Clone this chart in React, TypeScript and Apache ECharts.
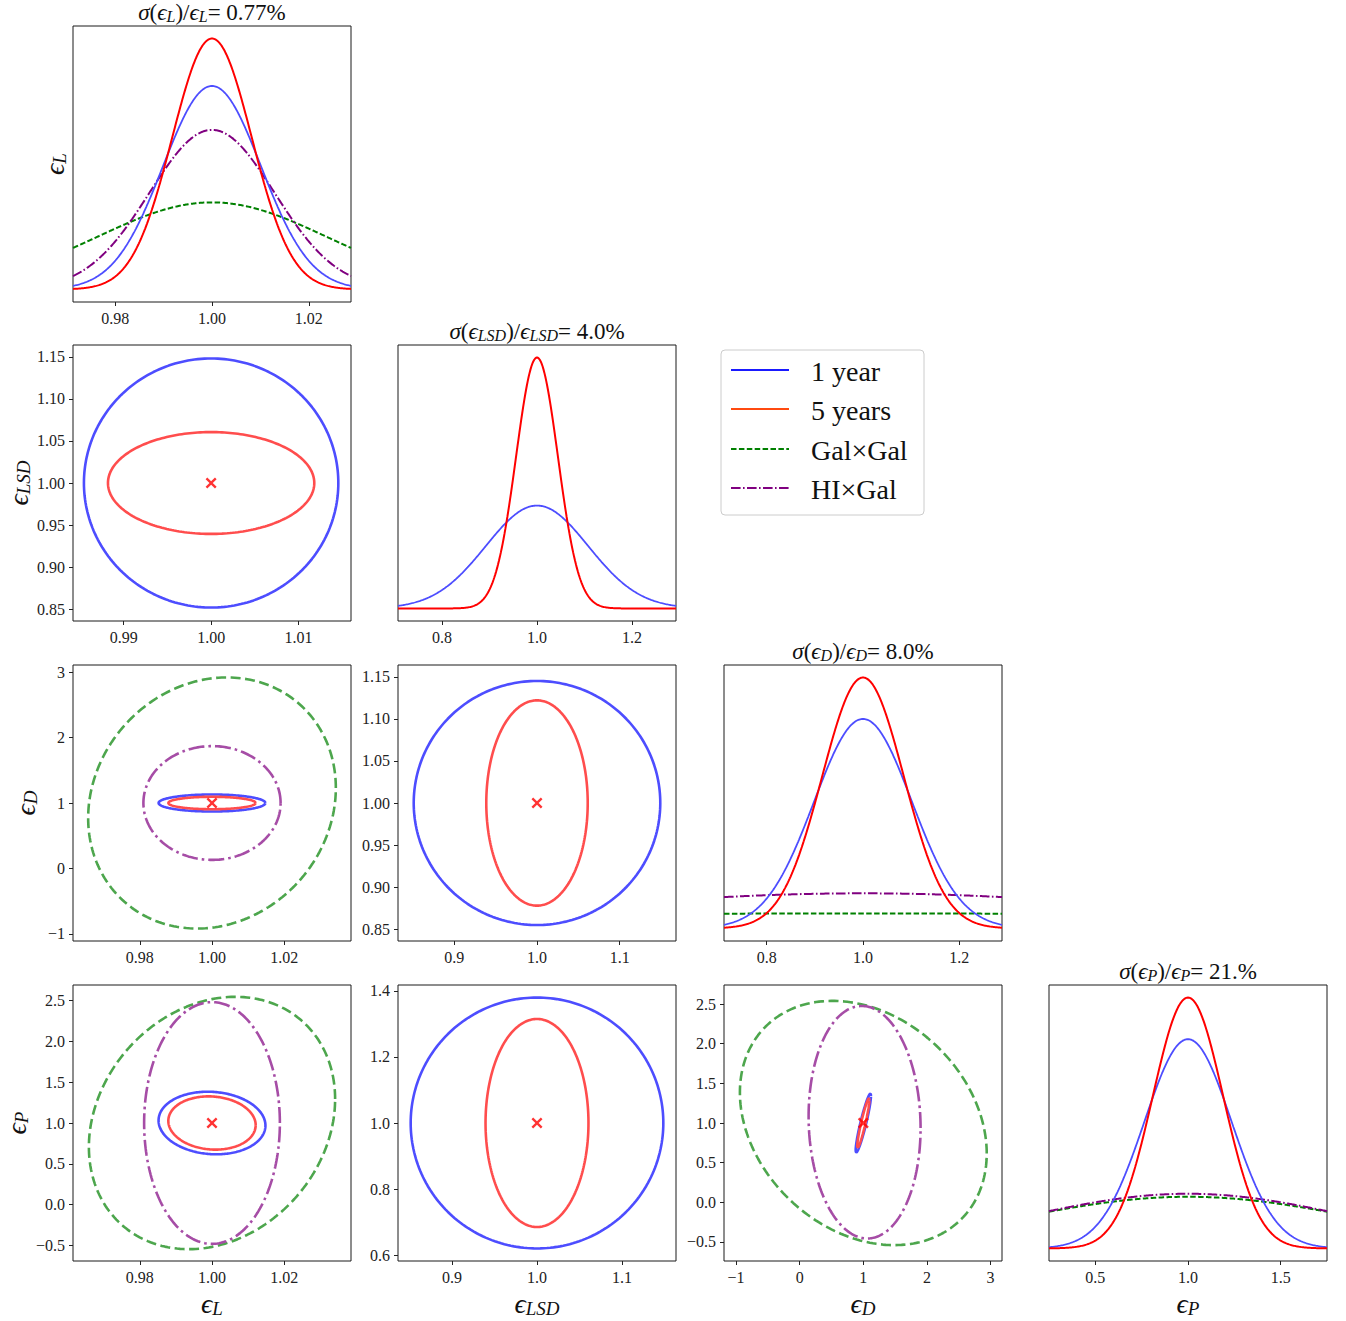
import React, { useEffect, useRef } from "react";
import * as echarts from "echarts";

const W = 1346;
const H = 1321;
const FONT = "'Liberation Serif', 'DejaVu Serif', serif";

// ---- panel layout ----
const colLeft = [73, 398, 724, 1049];
const rowTop = [26, 345, 665, 985];
const PW = 278;
const PH = 276;

// ---- names ----
const seriesNames = ["1 year", "5 years", "Gal×Gal", "HI×Gal"];
const paramSubs = ["L", "LSD", "D", "P"];
const diagTitleValues = ["0.77%", "4.0%", "8.0%", "21.%"];
const fiducial = [1.0, 1.0, 1.0, 1.0];

// ---- 1D marginals (order: 1 year, 5 years, Gal×Gal, HI×Gal) ----
const diagXRange = [[0.9713, 1.0287], [0.707, 1.293], [0.7113, 1.2887], [0.25, 1.75]];
const diagXTicks = [[0.98, 1.0, 1.02], [0.8, 1.0, 1.2], [0.8, 1.0, 1.2], [0.5, 1.0, 1.5]];
const diagXDecimals = [2, 1, 1, 1];
const diagSigma = [
  [0.0101, 0.0082, 0.0236, 0.0129],
  [0.108, 0.044, null, null],
  [0.1014, 0.0847, 1.41, 0.605],
  [0.235, 0.19, 0.908, 0.858],
];
const diagPeak = [
  [0.811, 1.0, 0.347, 0.636],
  [0.41, 1.0, null, null],
  [0.835, 1.0, 0.06, 0.14],
  [0.834, 1.0, 0.206, 0.218],
];

// ---- 2D contours ----
const offRows = [1, 2, 2, 3, 3, 3];
const offCols = [0, 0, 1, 0, 1, 2];
const offXRange = [[0.9842, 1.016], [0.9615, 1.0385], [0.832, 1.168], [0.9615, 1.0385], [0.8366, 1.1634], [-1.19, 3.18]];
const offYRange = [[0.836, 1.164], [-1.11, 3.11], [0.836, 1.164], [-0.69, 2.69], [0.582, 1.418], [-0.74, 2.74]];
const offXTicks = [
  [0.99, 1.0, 1.01],
  [0.98, 1.0, 1.02],
  [0.9, 1.0, 1.1],
  [0.98, 1.0, 1.02],
  [0.9, 1.0, 1.1],
  [-1, 0, 1, 2, 3],
];
const offYTicks = [
  [0.85, 0.9, 0.95, 1.0, 1.05, 1.1, 1.15],
  [-1, 0, 1, 2, 3],
  [0.85, 0.9, 0.95, 1.0, 1.05, 1.1, 1.15],
  [-0.5, 0.0, 0.5, 1.0, 1.5, 2.0, 2.5],
  [0.6, 0.8, 1.0, 1.2, 1.4],
  [-0.5, 0.0, 0.5, 1.0, 1.5, 2.0, 2.5],
];
const offXDec = [2, 2, 1, 2, 1, 0];
const offYDec = [2, 0, 2, 1, 1, 1];
// contour: [centreX, centreY, halfWidthX, halfWidthY, correlation]
const contourBlue = [
  [1, 1, 0.01455, 0.148, 0],
  [1, 1, 0.0148, 0.13, 0],
  [1, 1, 0.149, 0.145, 0],
  [1, 1, 0.0148, 0.383, -0.08],
  [1, 1, 0.1485, 0.38, 0],
  [1, 1, 0.12, 0.37, 0.92],
];
const contourRed = [
  [1, 1, 0.0118, 0.0605, 0],
  [1, 1, 0.0121, 0.095, 0],
  [1, 1, 0.0613, 0.122, 0],
  [1, 1, 0.0121, 0.326, -0.08],
  [1, 1, 0.0605, 0.315, 0],
  [1, 1, 0.095, 0.31, 0.93],
];
const contourGreen = [
  null,
  [1, 1, 0.0343, 1.92, 0.12],
  null,
  [1, 1, 0.0341, 1.545, 0.19],
  null,
  [1, 1, 1.94, 1.54, -0.25],
];
const contourPurple = [
  null,
  [1, 1, 0.019, 0.87, 0],
  null,
  [1, 1, 0.0188, 1.48, 0],
  null,
  [1.02, 1.01, 0.88, 1.466, -0.05],
];

// ---- styles ----
const lineColors1D = ["#4d4dff", "#ff0000", "#008000", "#800080"];
const lineWidths1D = [1.8, 2, 2, 2];
const lineDash1D: any[] = ["solid", "solid", [5.5, 2.4], [9.6, 2.4, 1.6, 2.4]];
const lineColors2D = ["#4d4dff", "#ff4d4d", "#4da64d", "#a64da6"];
const lineDash2D: any[] = ["solid", "solid", [10, 4.5], [16, 4, 2.6, 4]];
const legendColors = ["#1a1aff", "#ff4a10", "#008000", "#800080"];
const legendDash: any[] = [null, null, [5.5, 2.4], [9.6, 2.4, 1.6, 2.4]];

const fmt = (d: number) => (v: number) => {
  const s = Number(v).toFixed(d);
  return s.startsWith("-") ? "\u2212" + s.slice(1) : s;
};

function gaussCurve(mu: number, sigma: number, peak: number, range: number[]) {
  const pts: number[][] = [];
  const N = 300;
  for (let k = 0; k <= N; k++) {
    const x = range[0] + ((range[1] - range[0]) * k) / N;
    pts.push([x, peak * Math.exp(-((x - mu) * (x - mu)) / (2 * sigma * sigma))]);
  }
  return pts;
}

function contour(e: number[]) {
  const [cx, cy, ax, ay, rho] = e;
  const s = Math.sqrt(1 - rho * rho);
  const pts: number[][] = [];
  const N = 240;
  for (let k = 0; k <= N; k++) {
    const t = (2 * Math.PI * k) / N;
    pts.push([cx + ax * Math.cos(t), cy + ay * (rho * Math.cos(t) + s * Math.sin(t))]);
  }
  return pts;
}

function valueAxis(gridIndex: number, range: number[], ticks: number[] | null, dec: number) {
  return {
    type: "value",
    gridIndex,
    min: range[0],
    max: range[1],
    axisLine: { show: false, onZero: false },
    splitLine: { show: false },
    axisTick: ticks
      ? { show: true, customValues: ticks, length: 4, lineStyle: { color: "#222", width: 1 } }
      : { show: false },
    axisLabel: ticks
      ? {
          show: true,
          customValues: ticks,
          formatter: fmt(dec),
          fontFamily: FONT,
          fontSize: 16,
          color: "#222",
          margin: 8,
        }
      : { show: false },
  };
}

function subRich(base: number, sub: number, pad: number) {
  return {
    i: { fontStyle: "italic", fontFamily: FONT, fontSize: base, fill: "#111" },
    s: {
      fontStyle: "italic",
      fontFamily: FONT,
      fontSize: sub,
      lineHeight: sub,
      padding: [pad, 0, 0, 0],
      verticalAlign: "bottom",
      fill: "#111",
    },
  };
}

function buildOption() {
  const grid: any[] = [];
  const xAxis: any[] = [];
  const yAxis: any[] = [];
  const series: any[] = [];
  const graphic: any[] = [];

  const addGrid = (r: number, c: number) => {
    grid.push({
      left: colLeft[c],
      top: rowTop[r],
      width: PW,
      height: PH,
      show: true,
      backgroundColor: "transparent",
      borderColor: "#1a1a1a",
      borderWidth: 1,
      containLabel: false,
      outerBoundsMode: "none",
    });
    return grid.length - 1;
  };

  // diagonal panels
  for (let d = 0; d < 4; d++) {
    const g = addGrid(d, d);
    xAxis.push(valueAxis(g, diagXRange[d], diagXTicks[d], diagXDecimals[d]));
    yAxis.push(valueAxis(g, [-0.05, 1.05], null, 0));
    const order = [2, 3, 0, 1];
    for (const s of order) {
      const sig = diagSigma[d][s];
      const pk = diagPeak[d][s];
      if (sig == null || pk == null) continue;
      series.push({
        type: "line",
        name: seriesNames[s],
        xAxisIndex: g,
        yAxisIndex: g,
        data: gaussCurve(fiducial[d], sig, pk, diagXRange[d]),
        showSymbol: false,
        symbol: "none",
        silent: true,
        clip: true,
        lineStyle: { color: lineColors1D[s], width: lineWidths1D[s], type: lineDash1D[s] },
      });
    }
    // title
    graphic.push({
      type: "text",
      x: colLeft[d] + PW / 2,
      y: rowTop[d] - 14,
      style: {
        text: `{i|σ}({i|ϵ}{s|${paramSubs[d]}})/{i|ϵ}{s|${paramSubs[d]}}= ${diagTitleValues[d]}`,
        rich: subRich(23, 16, 13),
        fontFamily: FONT,
        fontSize: 23,
        lineHeight: 25,
        fill: "#111",
        align: "center",
        verticalAlign: "middle",
      },
    });
  }

  // off-diagonal panels
  for (let p = 0; p < offRows.length; p++) {
    const r = offRows[p];
    const c = offCols[p];
    const g = addGrid(r, c);
    xAxis.push(valueAxis(g, offXRange[p], offXTicks[p], offXDec[p]));
    yAxis.push(valueAxis(g, offYRange[p], offYTicks[p], offYDec[p]));
    const sets = [contourGreen[p], contourPurple[p], contourBlue[p], contourRed[p]];
    const idx = [2, 3, 0, 1];
    sets.forEach((e, k) => {
      if (!e) return;
      const s = idx[k];
      series.push({
        type: "line",
        name: seriesNames[s],
        xAxisIndex: g,
        yAxisIndex: g,
        data: contour(e),
        showSymbol: false,
        symbol: "none",
        silent: true,
        clip: true,
        lineStyle: { color: lineColors2D[s], width: 2.6, type: lineDash2D[s] },
      });
    });
    series.push({
      type: "scatter",
      name: "fiducial",
      xAxisIndex: g,
      yAxisIndex: g,
      data: [[fiducial[c], fiducial[r]]],
      symbol: "path://M0,1.5 L1.5,0 L5,3.5 L8.5,0 L10,1.5 L6.5,5 L10,8.5 L8.5,10 L5,6.5 L1.5,10 L0,8.5 L3.5,5 Z",
      symbolSize: 11,
      silent: true,
      itemStyle: { color: "#ff0000" },
      z: 5,
    });
  }

  // y-axis labels (left column)
  const yLabelX = [54, 18, 25, 16];
  for (let r = 0; r < 4; r++) {
    graphic.push({
      type: "text",
      x: yLabelX[r],
      y: rowTop[r] + PH / 2,
      rotation: Math.PI / 2,
      style: {
        text: `{i|ϵ}{s|${paramSubs[r]}}`,
        rich: subRich(28, 19, 15),
        fontFamily: FONT,
        fontSize: 28,
        lineHeight: 30,
        fill: "#111",
        align: "center",
        verticalAlign: "middle",
      },
    });
  }
  // x-axis labels (bottom row)
  for (let c = 0; c < 4; c++) {
    graphic.push({
      type: "text",
      x: colLeft[c] + PW / 2,
      y: 1303,
      style: {
        text: `{i|ϵ}{s|${paramSubs[c]}}`,
        rich: subRich(28, 19, 15),
        fontFamily: FONT,
        fontSize: 28,
        lineHeight: 30,
        fill: "#111",
        align: "center",
        verticalAlign: "middle",
      },
    });
  }

  // legend
  const legendY = [370, 409, 449, 488];
  graphic.push({
    type: "rect",
    shape: { x: 721, y: 350, width: 203, height: 165, r: 4 },
    style: { fill: "rgba(255,255,255,0.8)", stroke: "#cccccc", lineWidth: 1 },
    z: 100,
  });
  for (let s = 0; s < 4; s++) {
    graphic.push({
      type: "line",
      shape: { x1: 731, y1: legendY[s], x2: 789, y2: legendY[s] },
      style: { stroke: legendColors[s], lineWidth: 2, lineDash: legendDash[s] },
      z: 101,
    });
    graphic.push({
      type: "text",
      x: 811,
      y: legendY[s] + 1,
      style: {
        text: seriesNames[s],
        fontFamily: FONT,
        fontSize: 28,
        fill: "#111",
        align: "left",
        verticalAlign: "middle",
      },
      z: 101,
    });
  }

  return {
    animation: false,
    backgroundColor: "#ffffff",
    grid,
    xAxis,
    yAxis,
    series,
    graphic,
  };
}

export default function App() {
  const ref = useRef<HTMLDivElement>(null);
  useEffect(() => {
    if (!ref.current) return;
    const chart = echarts.init(ref.current, null, { renderer: "svg" });
    chart.setOption(buildOption() as any);
    return () => chart.dispose();
  }, []);
  return (
    <div
      ref={ref}
      style={{ position: "absolute", left: 0, top: 0, width: W, height: H, background: "#fff" }}
    />
  );
}
